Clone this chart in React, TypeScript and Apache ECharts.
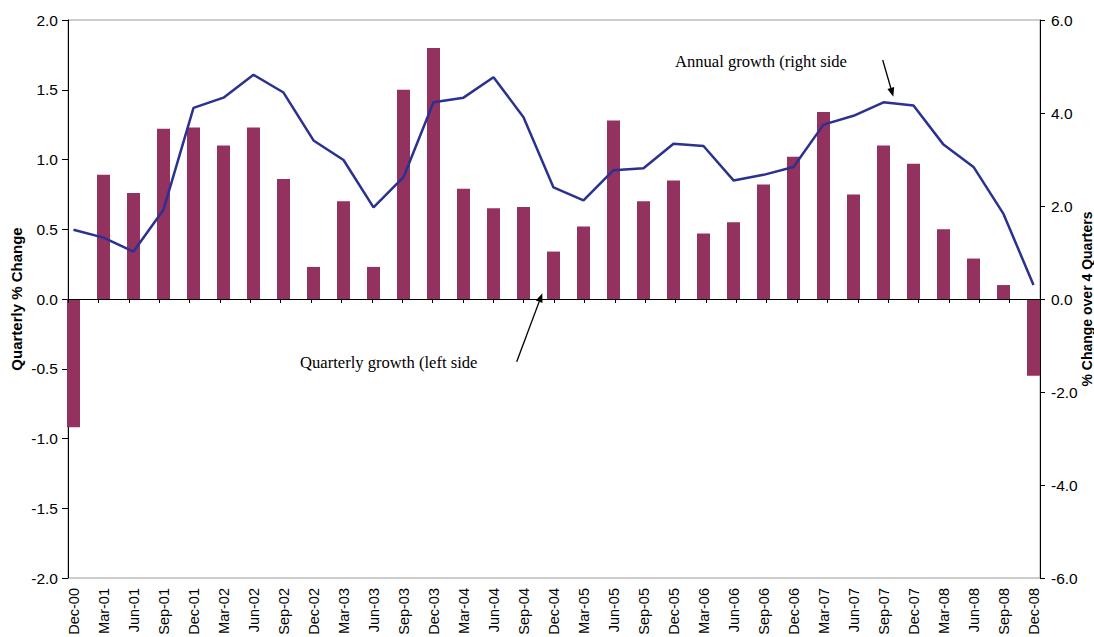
import React, { useEffect, useRef } from "react";
import * as echarts from "echarts";

const categories = [
  "Dec-00", "Mar-01", "Jun-01", "Sep-01", "Dec-01", "Mar-02", "Jun-02", "Sep-02",
  "Dec-02", "Mar-03", "Jun-03", "Sep-03", "Dec-03", "Mar-04", "Jun-04", "Sep-04",
  "Dec-04", "Mar-05", "Jun-05", "Sep-05", "Dec-05", "Mar-06", "Jun-06", "Sep-06",
  "Dec-06", "Mar-07", "Jun-07", "Sep-07", "Dec-07", "Mar-08", "Jun-08", "Sep-08",
  "Dec-08",
];

const quarterlyGrowth = [
  -0.92, 0.89, 0.76, 1.22, 1.23, 1.1, 1.23, 0.86,
  0.23, 0.7, 0.23, 1.5, 1.8, 0.79, 0.65, 0.66,
  0.34, 0.52, 1.28, 0.7, 0.85, 0.47, 0.55, 0.82,
  1.02, 1.34, 0.75, 1.1, 0.97, 0.5, 0.29, 0.1,
  -0.55,
];

const annualGrowth = [
  1.49, 1.32, 1.02, 1.92, 4.11, 4.33, 4.82, 4.44,
  3.41, 2.99, 1.97, 2.62, 4.23, 4.33, 4.77, 3.91,
  2.4, 2.12, 2.77, 2.81, 3.34, 3.29, 2.55, 2.67,
  2.84, 3.75, 3.94, 4.23, 4.16, 3.32, 2.84, 1.83,
  0.3,
];

const leftTicks = { min: -2, max: 2, interval: 0.5 };
const rightTicks = { min: -6, max: 6, interval: 2 };

const BAR = "#93315f";
const LINE = "#2b3190";

function arrow(x1: number, y1: number, x2: number, y2: number) {
  const dx = x2 - x1;
  const dy = y2 - y1;
  const len = Math.sqrt(dx * dx + dy * dy);
  const ux = dx / len;
  const uy = dy / len;
  const hl = 9;
  const hw = 3.5;
  const bx = x2 - ux * hl;
  const by = y2 - uy * hl;
  const px = -uy;
  const py = ux;
  return [
    {
      type: "line",
      shape: { x1, y1, x2: bx, y2: by },
      style: { stroke: "#000", lineWidth: 1.3 },
    },
    {
      type: "polygon",
      shape: {
        points: [
          [x2, y2],
          [bx + px * hw, by + py * hw],
          [bx - px * hw, by - py * hw],
        ],
      },
      style: { fill: "#000" },
    },
  ];
}

export default function App() {
  const ref = useRef<HTMLDivElement>(null);

  useEffect(() => {
    if (!ref.current) return;
    const chart = echarts.init(ref.current, null, { renderer: "svg" });
    const fmt = (v: number) => v.toFixed(1);
    chart.setOption({
      animation: false,
      backgroundColor: "#fff",
      textStyle: { fontFamily: "Liberation Sans" },
      grid: [
        {
          left: 68,
          right: 54,
          top: 20,
          bottom: 59,
          show: true,
          borderColor: "#9a9a9a",
          borderWidth: 1,
          backgroundColor: "transparent",
          containLabel: false,
          outerBoundsMode: "none",
        },
        {
          left: 73.5,
          right: 60.5,
          top: 20,
          bottom: 59,
          containLabel: false,
          outerBoundsMode: "none",
        },
      ],
      xAxis: [
        {
          gridIndex: 0,
          type: "category",
          data: categories,
          boundaryGap: false,
          z: 5,
          axisLine: { show: true, onZero: true, onZeroAxisIndex: 0, lineStyle: { color: "#000", width: 1 } },
          axisTick: { show: true, length: 4, inside: false, interval: 0, lineStyle: { color: "#000" } },
          axisLabel: { show: false },
          splitLine: { show: false },
        },
        {
          gridIndex: 1,
          type: "category",
          data: categories,
          boundaryGap: false,
          position: "bottom",
          axisLine: { show: false, onZero: false },
          axisTick: { show: false },
          axisLabel: {
            show: true,
            interval: 0,
            rotate: 90,
            margin: 10,
            fontSize: 14.5,
            color: "#000",
            fontFamily: "Liberation Sans",
          },
          splitLine: { show: false },
        },
      ],
      yAxis: [
        {
          gridIndex: 0,
          type: "value",
          position: "left",
          min: leftTicks.min,
          max: leftTicks.max,
          interval: leftTicks.interval,
          axisLine: { show: true, onZero: false, lineStyle: { color: "#000" } },
          axisTick: { show: true, length: 6, lineStyle: { color: "#000" } },
          axisLabel: { formatter: fmt, fontSize: 15.5, color: "#000", margin: 10, fontFamily: "Liberation Sans" },
          splitLine: { show: false },
          name: "Quarterly % Change",
          nameLocation: "middle",
          nameRotate: 90,
          nameGap: 44,
          nameMoveOverlap: false,
          nameTextStyle: { fontSize: 15, fontWeight: "bold", color: "#000", fontFamily: "Liberation Sans" },
        },
        {
          gridIndex: 0,
          type: "value",
          position: "right",
          min: rightTicks.min,
          max: rightTicks.max,
          interval: rightTicks.interval,
          axisLine: { show: true, onZero: false, lineStyle: { color: "#000" } },
          axisTick: { show: true, length: 5, lineStyle: { color: "#000" } },
          axisLabel: { formatter: fmt, fontSize: 15.5, color: "#000", margin: 11, fontFamily: "Liberation Sans" },
          splitLine: { show: false },
          name: "% Change over 4 Quarters",
          nameLocation: "middle",
          nameRotate: 90,
          nameGap: 40,
          nameMoveOverlap: false,
          nameTextStyle: { fontSize: 14, fontWeight: "bold", color: "#000", fontFamily: "Liberation Sans" },
        },
        {
          gridIndex: 1,
          type: "value",
          min: leftTicks.min,
          max: leftTicks.max,
          show: false,
        },
        {
          gridIndex: 1,
          type: "value",
          min: rightTicks.min,
          max: rightTicks.max,
          show: false,
        },
      ],
      series: [
        {
          name: "Quarterly growth",
          type: "bar",
          xAxisIndex: 1,
          yAxisIndex: 2,
          data: quarterlyGrowth,
          barWidth: 13,
          clip: false,
          z: 2,
          itemStyle: { color: BAR },
        },
        {
          name: "Annual growth",
          type: "line",
          xAxisIndex: 1,
          yAxisIndex: 3,
          data: annualGrowth,
          symbol: "none",
          clip: false,
          z: 6,
          lineStyle: { color: LINE, width: 2.5 },
        },
      ],
      graphic: [
        {
          type: "text",
          x: 675,
          y: 61,
          style: {
            text: "Annual growth (right side",
            fill: "#000",
            font: "16.6px 'Liberation Serif'",
            verticalAlign: "middle",
          },
        },
        {
          type: "text",
          x: 300,
          y: 362,
          style: {
            text: "Quarterly growth (left side",
            fill: "#000",
            font: "16.6px 'Liberation Serif'",
            verticalAlign: "middle",
          },
        },
        ...arrow(882.7, 60, 893.3, 96.7),
        ...arrow(516.7, 361.7, 542.3, 293.3),
      ],
    });
    return () => chart.dispose();
  }, []);

  return (
    <div
      ref={ref}
      style={{ position: "fixed", left: 0, top: 0, width: 1094, height: 637 }}
    />
  );
}
